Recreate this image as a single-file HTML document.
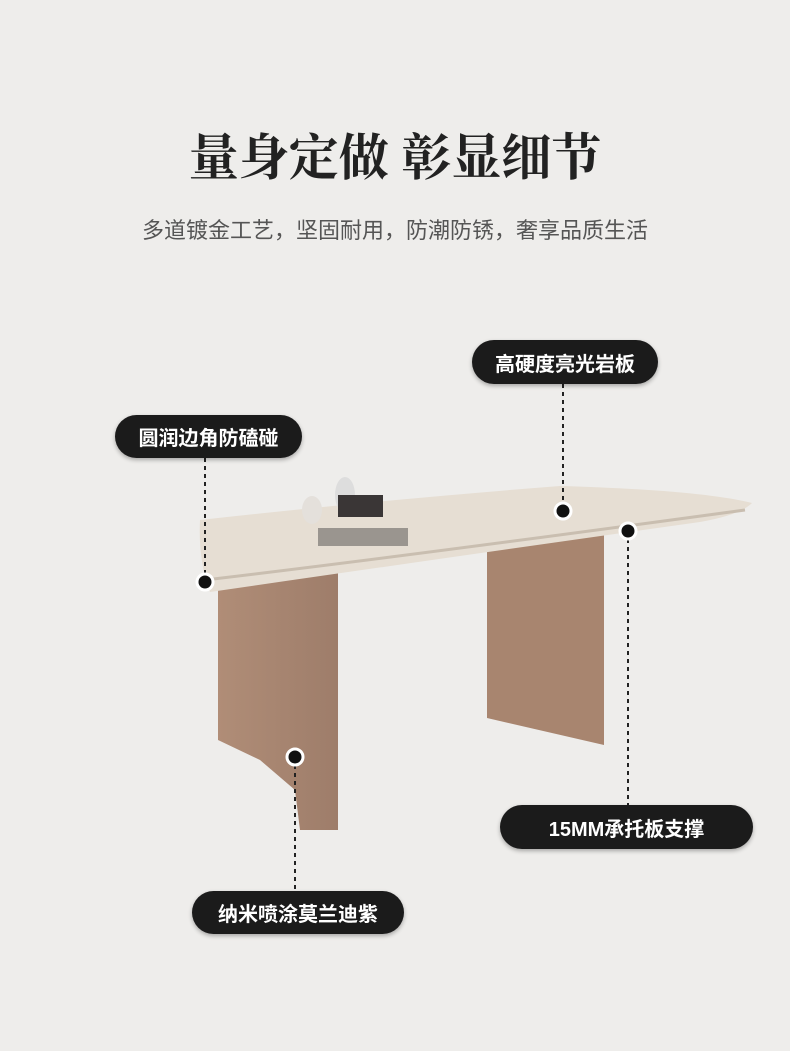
<!DOCTYPE html>
<html><head><meta charset="utf-8"><style>
html,body{margin:0;padding:0}
body{width:790px;height:1051px;background:#eeedeb;position:relative;overflow:hidden;font-family:"Liberation Sans","Noto Sans CJK SC",sans-serif}
.t{position:absolute;left:0;width:790px;text-align:center}
.pill{position:absolute;background:#1b1b1b;color:#fff;font-weight:bold;font-size:20px;border-radius:22px;display:flex;align-items:center;justify-content:center;box-shadow:0 2px 4px rgba(0,0,0,.3)}
</style></head><body>
<div class="t" style="top:118px;font-size:50px;color:#222;letter-spacing:0px;font-family:'Noto Serif CJK SC','Noto Sans CJK SC',serif;font-weight:bold">量身定做 彰显细节</div>
<div class="t" style="top:213px;font-size:22px;color:#555">多道镀金工艺，坚固耐用，防潮防锈，奢享品质生活</div>
<svg width="790" height="1051" style="position:absolute;left:0;top:0">
<defs><linearGradient id="lg" x1="0" x2="1"><stop offset="0" stop-color="#b08d77"/><stop offset="1" stop-color="#9e7d6a"/></linearGradient></defs>
<polygon points="218,575 338,565 338,830 300,830 295,790 260,760 218,740" fill="url(#lg)"/>
<polygon points="487,538 604,533 604,745 487,718" fill="#a8856f"/>
<path d="M200,520 Q380,500 560,486 Q700,490 752,503 Q740,515 700,522 Q500,550 210,592 Q198,560 200,520Z" fill="#e6ded3"/>
<path d="M205,580 Q400,557 745,510" stroke="#c9beb0" stroke-width="3" fill="none"/>
<rect x="318" y="528" width="90" height="18" fill="#9a958f"/>
<ellipse cx="312" cy="510" rx="10" ry="14" fill="#e4e0db"/>
<ellipse cx="345" cy="495" rx="10" ry="18" fill="#ddd"/>
<rect x="338" y="495" width="45" height="22" fill="#3a3636"/>
<g stroke="#222" stroke-width="2" stroke-dasharray="4,4" fill="none">
<line x1="563" y1="384" x2="563" y2="511"/><line x1="205" y1="458" x2="205" y2="582"/>
<line x1="628" y1="531" x2="628" y2="805"/><line x1="295" y1="757" x2="295" y2="891"/></g>
<g fill="#111" stroke="#fff" stroke-width="3">
<circle cx="563" cy="511" r="8"/><circle cx="628" cy="531" r="8"/><circle cx="205" cy="582" r="8"/><circle cx="295" cy="757" r="8"/></g>
</svg>
<div class="pill" style="left:472px;top:340px;width:186px;height:44px">高硬度亮光岩板</div>
<div class="pill" style="left:115px;top:415px;width:187px;height:43px">圆润边角防磕碰</div>
<div class="pill" style="left:500px;top:805px;width:253px;height:44px">15MM承托板支撑</div>
<div class="pill" style="left:192px;top:891px;width:212px;height:43px">纳米喷涂莫兰迪紫</div>
</body></html>
